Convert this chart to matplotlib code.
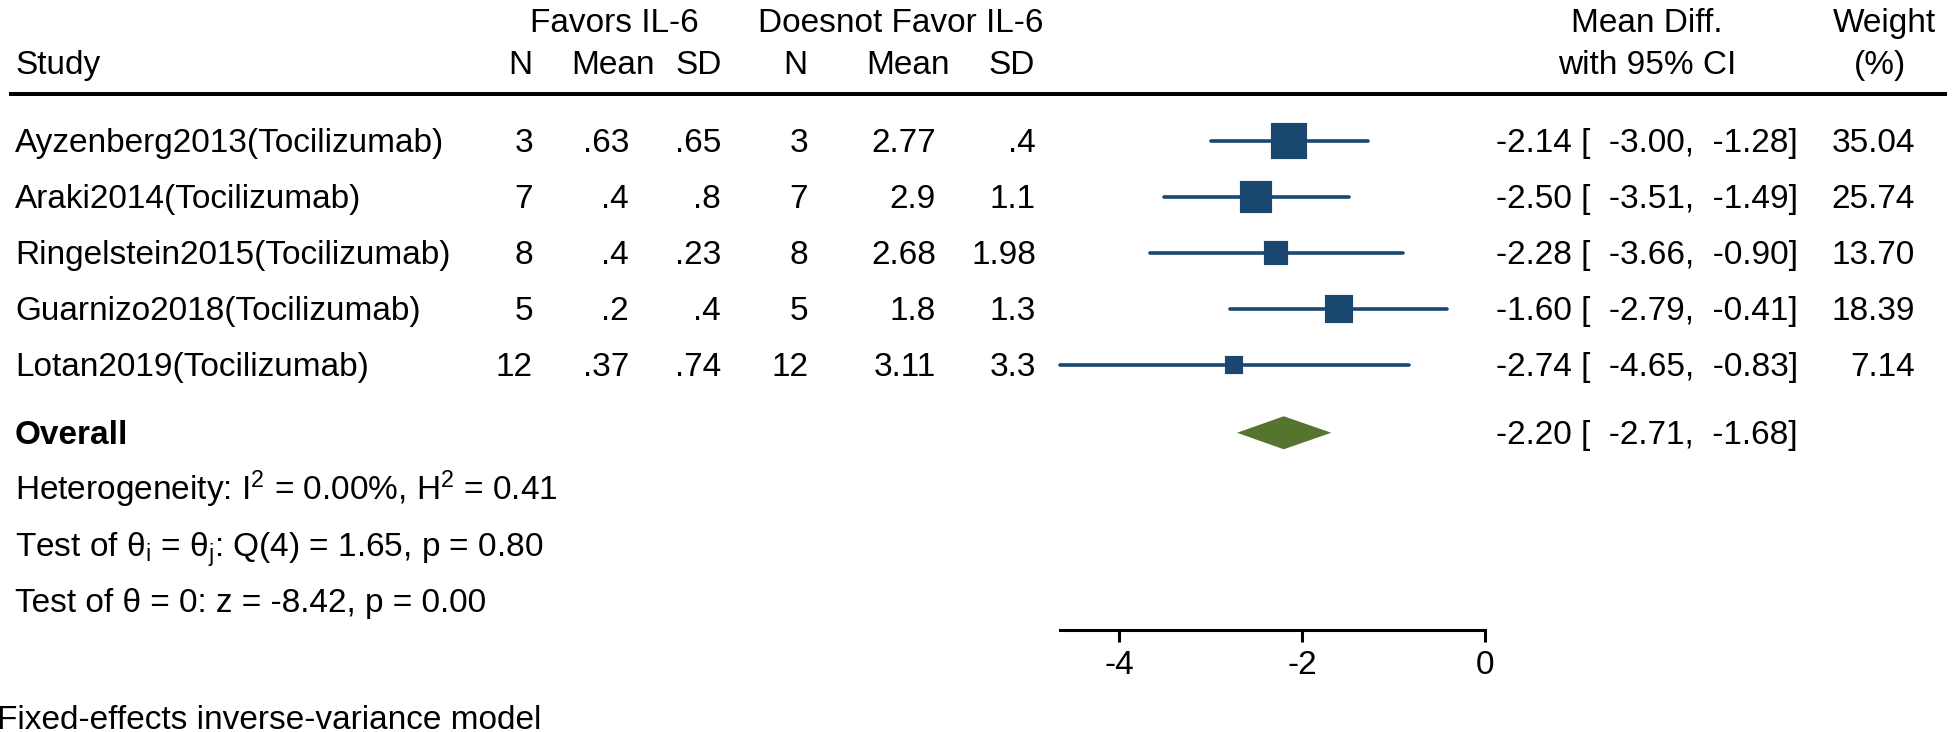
import numpy as np
import matplotlib
matplotlib.use("Agg")
import matplotlib.pyplot as plt
from matplotlib.transforms import blended_transform_factory

plt.rcParams['font.family'] = ['Liberation Sans', 'DejaVu Sans']
plt.rcParams['mathtext.fontset'] = 'custom'
plt.rcParams['mathtext.rm'] = 'Liberation Sans'
plt.rcParams['mathtext.it'] = 'Liberation Sans:italic'
plt.rcParams['mathtext.bf'] = 'Liberation Sans:bold'
plt.rcParams['axes.unicode_minus'] = False

# ---------------- data ----------------
studies = ["Ayzenberg2013(Tocilizumab)", "Araki2014(Tocilizumab)",
           "Ringelstein2015(Tocilizumab)", "Guarnizo2018(Tocilizumab)",
           "Lotan2019(Tocilizumab)"]
n_fav = ["3", "7", "8", "5", "12"]
mean_fav = [".63", ".4", ".4", ".2", ".37"]
sd_fav = [".65", ".8", ".23", ".4", ".74"]
n_not = ["3", "7", "8", "5", "12"]
mean_not = ["2.77", "2.9", "2.68", "1.8", "3.11"]
sd_not = [".4", "1.1", "1.98", "1.3", "3.3"]
md = [-2.14, -2.50, -2.28, -1.60, -2.74]
ci_lo = [-3.00, -3.51, -3.66, -2.79, -4.65]
ci_hi = [-1.28, -1.49, -0.90, -0.41, -0.83]
weights = [35.04, 25.74, 13.70, 18.39, 7.14]
overall_md, overall_lo, overall_hi = -2.20, -2.71, -1.68
xticks = [-4, -2, 0]
stats_lines = [r"Heterogeneity: I$^\mathregular{2}$ = 0.00%, H$^\mathregular{2}$ = 0.41",
               r"Test of θ$_\mathregular{i}$ = θ$_\mathregular{j}$: Q(4) = 1.65, p = 0.80",
               r"Test of θ = 0: z = -8.42, p = 0.00"]
footnote = "Fixed-effects inverse-variance model"

# ---------------- layout ----------------
W, H = 1952, 732
fig = plt.figure(figsize=(W / 100, H / 100), dpi=100)
FS = 24
NAVY = "#1a476f"
GREEN = "#55752f"

# forest axes: x from -4.645 (px 1060) to 0 (px 1485); full height, y in row units
x_left_val = -4.645
ax = fig.add_axes([1060 / W, 0, (1485 - 1060) / W, 1])
ax.set_xlim(x_left_val, 0)
ax.set_ylim(591 / 56, -141 / 56)
for s in ["top", "right", "left"]:
    ax.spines[s].set_visible(False)
axis_y = 8.73
ax.spines["bottom"].set_position(("data", axis_y))
ax.spines["bottom"].set_linewidth(2.2)
ax.set_yticks([])
ax.set_xticks(xticks)
ax.set_xticklabels([str(t) for t in xticks])
ax.tick_params(axis="x", direction="out", length=8.6, width=2.2, pad=6, labelsize=FS)
ax.patch.set_visible(False)

rows = np.arange(len(studies))
overall_y = 5.21
stats_y = [6.21, 7.21, 8.21]
foot_y = 10.29
head1_y = -2.16
head2_y = -1.40
rule_y = -0.84
BL = 0.205  # baseline offset from row centre (rows)

# CI lines and boxes
for y, m, lo, hi, w in zip(rows, md, ci_lo, ci_hi, weights):
    ax.plot([lo, hi], [y, y], color=NAVY, lw=2.6, solid_capstyle="round", clip_on=False)
    ax.plot([m], [y], marker="s", ms=3.99 * np.sqrt(w), mew=3.0, color=NAVY,
            mec=NAVY, clip_on=False, zorder=3)

# overall diamond
dh = 0.295
ax.fill([overall_lo, overall_md, overall_hi, overall_md],
        [overall_y, overall_y - dh, overall_y, overall_y + dh],
        color=GREEN, lw=0, clip_on=False)

tr = blended_transform_factory(fig.transFigure, ax.transData)


def put(xpx, y, s, ha="left", **kw):
    ax.text(xpx / W, y + BL, s, ha=ha, va="baseline", fontsize=FS,
            transform=tr, clip_on=False, **kw)


# headers
put(614, head1_y, "Favors IL-6", ha="center")
put(901, head1_y, "Doesnot Favor IL-6", ha="center")
put(1647, head1_y, "Mean Diff.", ha="center")
put(1884, head1_y, "Weight", ha="center")
put(15, head2_y, "Study")
for xpx, lab in zip([532, 655, 722, 807, 950, 1035],
                    ["N", "Mean", "SD", "N", "Mean", "SD"]):
    put(xpx, head2_y, lab, ha="right")
put(1647, head2_y, "with 95% CI", ha="center")
put(1880, head2_y, "(%)", ha="center")

ax.plot([9 / W, 1947 / W], [rule_y, rule_y], color="black", lw=2.9,
        transform=tr, clip_on=False, solid_capstyle="butt")

# study rows
col_right = [533, 629, 721, 808, 936, 1036]
for i, y in enumerate(rows):
    put(15, y, studies[i])
    for xpx, col in zip(col_right, [n_fav, mean_fav, sd_fav, n_not, mean_not, sd_not]):
        put(xpx, y, col[i], ha="right")
    put(1496, y, f"{md[i]:.2f} [  {ci_lo[i]:.2f},  {ci_hi[i]:.2f}]")
    put(1915, y, f"{weights[i]:.2f}", ha="right")

put(15, overall_y, "Overall", fontweight="bold")
put(1496, overall_y, f"{overall_md:.2f} [  {overall_lo:.2f},  {overall_hi:.2f}]")

for y, s in zip(stats_y, stats_lines):
    put(15, y, s)

put(-3, foot_y, footnote)

fig.savefig("out.png", dpi=100)
